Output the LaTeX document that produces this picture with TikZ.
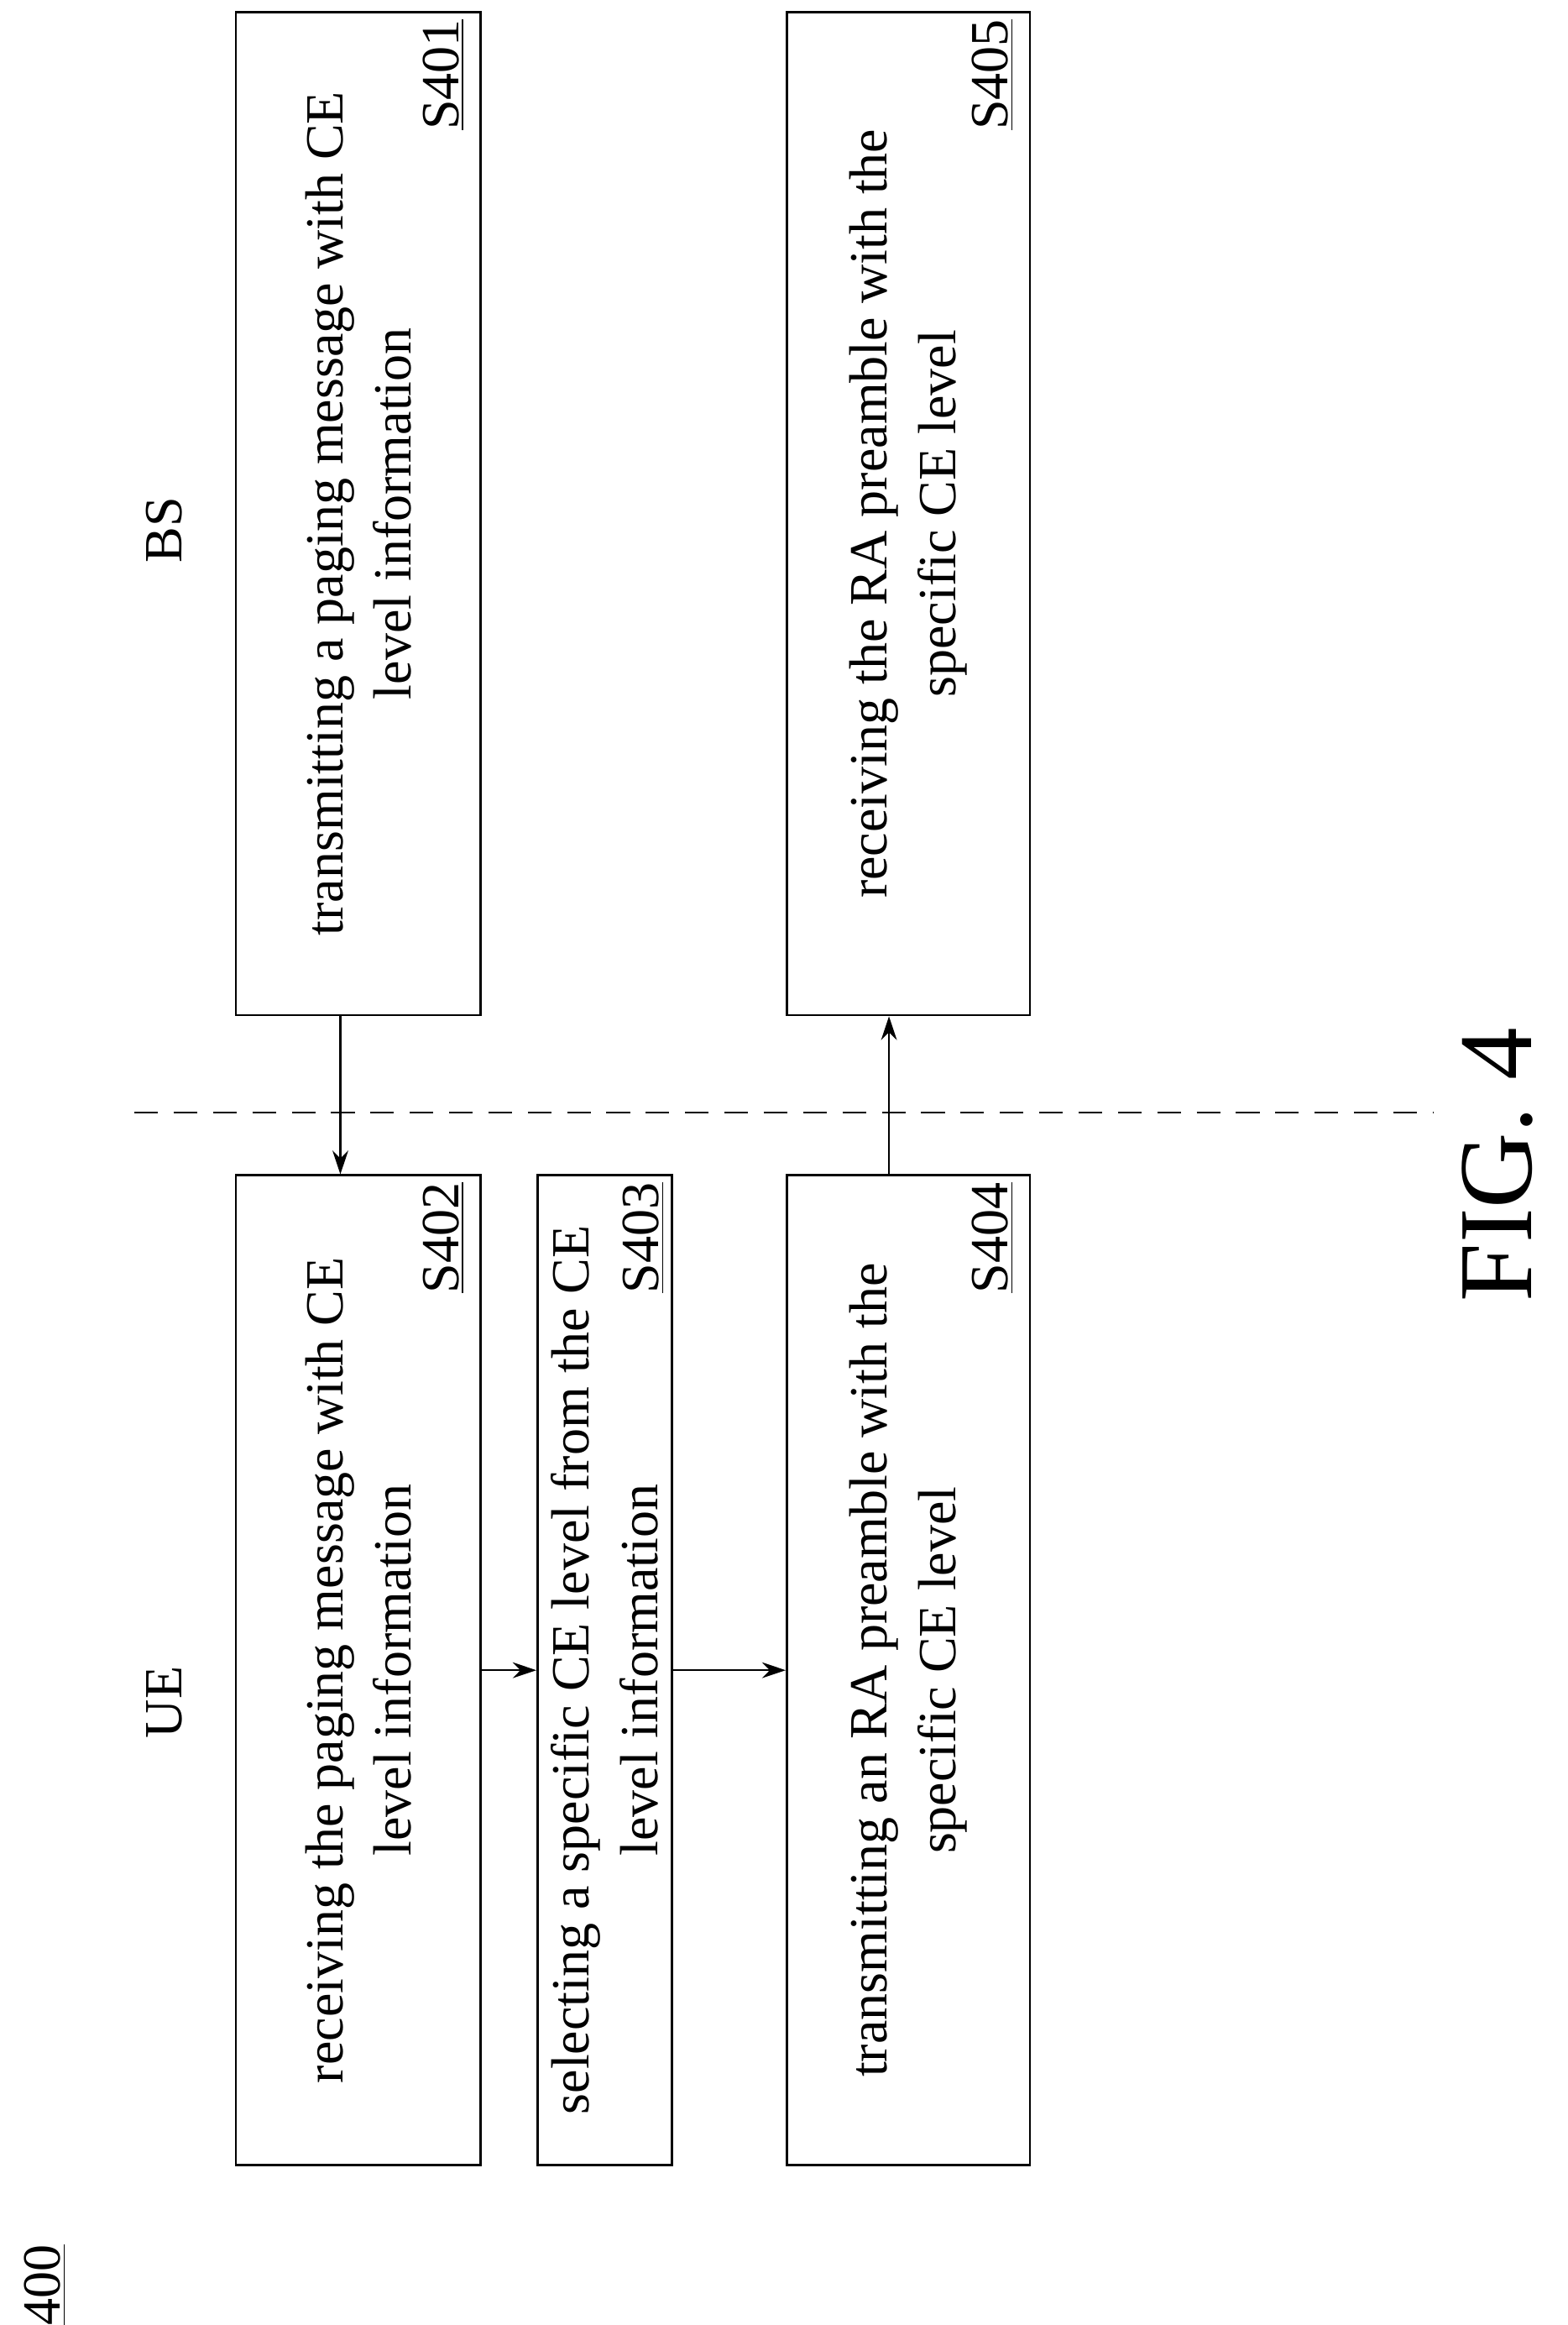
\documentclass[tikz,border=0pt]{standalone}
\usepackage{fontspec}
\setmainfont{Liberation Serif}
\usetikzlibrary{arrows.meta}
\begin{document}
\begin{tikzpicture}[x=0.02cm, y=-0.02cm,
  font=\fontsize{20.5}{26}\selectfont,
  stepbox/.style={draw, line width=0.8pt, rotate=90, align=center, inner sep=0pt},
  tag/.style={rotate=90},
  flow/.style={-{Stealth[length=9pt,width=6pt]}, line width=0.8pt},
]
\useasboundingbox (0,0) rectangle (1050,1557);
\node[tag] (fignum) at (30,1530) {\underline{400}};
\node[tag] (bs) at (110,355) {BS};
\node[tag] (ue) at (110,1140) {UE};
\node[tag, font=\fontsize{40}{46}\selectfont] (fig) at (1003,780) {FIG. 4};

\node[stepbox, minimum width=13.44cm, minimum height=3.28cm] (s401) at (240,344)
  {transmitting a paging message with CE\\level information};
\node[stepbox, minimum width=13.44cm, minimum height=3.26cm] (s405) at (608.5,344)
  {receiving the RA preamble with the\\specific CE level};
\node[stepbox, minimum width=13.26cm, minimum height=3.28cm] (s402) at (240,1118.5)
  {receiving the paging message with CE\\level information};
\node[stepbox, minimum width=13.26cm, minimum height=1.8cm] (s403) at (405,1118.5)
  {selecting a specific CE level from the CE\\level information};
\node[stepbox, minimum width=13.26cm, minimum height=3.26cm] (s404) at (608.5,1118.5)
  {transmitting an RA preamble with the\\specific CE level};

\node[tag] (l401) at (297,50) {\underline{S401}};
\node[tag] (l405) at (665,50) {\underline{S405}};
\node[tag] (l402) at (297,829) {\underline{S402}};
\node[tag] (l403) at (431,829) {\underline{S403}};
\node[tag] (l404) at (665,829) {\underline{S404}};

\coordinate (dashtop) at (90,745);
\coordinate (dashbot) at (960,745);
\draw[line width=0.8pt, dash pattern=on 9pt off 6pt] (dashtop) -- (dashbot);

\draw[flow] ([xshift=-0.24cm]s401.west) -- ([xshift=-0.24cm]s402.east);
\draw[flow] (s402.south) -- (s403.north);
\draw[flow] (s403.south) -- (s404.north);
\draw[flow] ([xshift=-0.26cm]s404.east) -- ([xshift=-0.26cm]s405.west);
\end{tikzpicture}
\end{document}
